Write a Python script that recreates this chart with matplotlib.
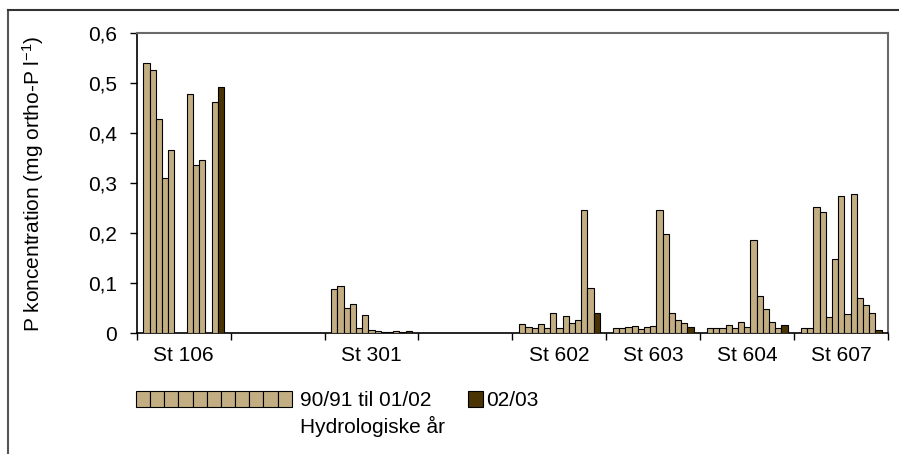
import numpy as np
import matplotlib
matplotlib.use("Agg")
from matplotlib import pyplot as plt
from matplotlib.patches import Rectangle
from matplotlib.lines import Line2D

plt.rcParams['font.family'] = ['Liberation Sans', 'DejaVu Sans']
plt.rcParams['mathtext.fontset'] = 'custom'
plt.rcParams['mathtext.rm'] = 'Liberation Sans'
plt.rcParams['mathtext.it'] = 'Liberation Sans'

# kategorier på x-aksen (tomme pladser mellem stationerne)
kategorier = ['St 106', '', 'St 301', '', 'St 602', 'St 603', 'St 604', 'St 607']

# 12 hydrologiske år 90/91..01/02 + 02/03 (sidste værdi), nan = ingen måling
st106 = [0.540, 0.527, 0.428, 0.311, 0.367, np.nan, np.nan, 0.479, 0.337, 0.347, np.nan, 0.463, 0.492]
st301 = [0.088, 0.095, 0.051, 0.058, 0.010, 0.036, 0.007, 0.005, 0.003, 0.003, 0.004, 0.003, 0.004]
st602 = [0.019, 0.013, 0.010, 0.018, 0.010, 0.040, 0.010, 0.035, 0.020, 0.026, 0.246, 0.090, 0.041]
st603 = [0.010, 0.010, 0.013, 0.015, 0.009, 0.013, 0.015, 0.247, 0.199, 0.040, 0.027, 0.020, 0.013]
st604 = [0.010, 0.010, 0.010, 0.017, 0.011, 0.022, 0.012, 0.187, 0.075, 0.049, 0.022, 0.010, 0.017]
st607 = [0.010, 0.011, 0.252, 0.243, 0.033, 0.149, 0.274, 0.038, 0.279, 0.070, 0.057, 0.040, 0.007]
tomt = [np.nan] * 13

data = [st106, tomt, st301, tomt, st602, st603, st604, st607]
y_ticks = [0, 0.1, 0.2, 0.3, 0.4, 0.5, 0.6]
y_labels = ['0', '0,1', '0,2', '0,3', '0,4', '0,5', '0,6']

lys = '#C2AE82'
moerk = '#4B3404'

fig = plt.figure(figsize=(8.99, 4.54), dpi=100)
ax = fig.add_axes([0.152, 0.2659, 0.836, 0.6607])

n = 13
bredde = 0.858 / n
for i, vaerdier in enumerate(data):
    for j, v in enumerate(vaerdier):
        if np.isnan(v):
            continue
        x = i + 0.5 + (j - (n - 1) / 2) * bredde
        farve = moerk if j == n - 1 else lys
        ax.bar(x, v, width=bredde, color=farve, edgecolor='black', linewidth=0.8, zorder=3)

ax.set_xlim(0, len(kategorier))
ax.set_ylim(0, 0.6)

ax.set_xticks(range(len(kategorier) + 1))
ax.set_xticklabels([])
ax.set_xticks([i + 0.5 for i in range(len(kategorier))], minor=True)
ax.set_xticklabels(kategorier, minor=True, fontsize=15)
ax.tick_params(axis='x', which='major', direction='out', length=5, width=1)
ax.tick_params(axis='x', which='minor', length=0, pad=9)

ax.set_yticks(y_ticks)
ax.set_yticklabels(y_labels, fontsize=15)
ax.tick_params(axis='y', direction='out', length=5, width=1, pad=9)

ax.set_ylabel(r'P koncentration (mg ortho-P l$^{\mathregular{-1}}$)', fontsize=15)
ax.yaxis.set_label_coords(-0.12, 0.5)

for s in ['left', 'bottom']:
    ax.spines[s].set_color('black')
    ax.spines[s].set_linewidth(1.2)
for s in ['top', 'right']:
    ax.spines[s].set_color('#6a6a6a')
    ax.spines[s].set_linewidth(1.5)

# forklaring (tegnet manuelt som i originalen)
W, H = 899.0, 454.0
for k in range(11):
    fig.add_artist(Rectangle(((136 + k * 14.15) / W, 1 - 407.3 / H), 14.15 / W, 16.6 / H,
                             transform=fig.transFigure, facecolor=lys, edgecolor='black', linewidth=0.8))
fig.text(300 / W, 1 - 406.5 / H, '90/91 til 01/02', fontsize=15, va='baseline')
fig.text(300 / W, 1 - 433 / H, 'Hydrologiske år', fontsize=15, va='baseline')
fig.add_artist(Rectangle((468.3 / W, 1 - 407.3 / H), 14.4 / W, 16.6 / H,
                         transform=fig.transFigure, facecolor=moerk, edgecolor='black', linewidth=0.8))
fig.text(486 / W, 1 - 406.5 / H, '02/03', fontsize=15, va='baseline')

# ydre ramme
fig.add_artist(Line2D([8 / W, 8 / W], [0, 1 - 10 / H], transform=fig.transFigure, color='#555555', linewidth=1.5))
fig.add_artist(Line2D([8 / W, 1], [1 - 10 / H, 1 - 10 / H], transform=fig.transFigure, color='#333333', linewidth=1.5))

fig.savefig('out.png', dpi=100)
